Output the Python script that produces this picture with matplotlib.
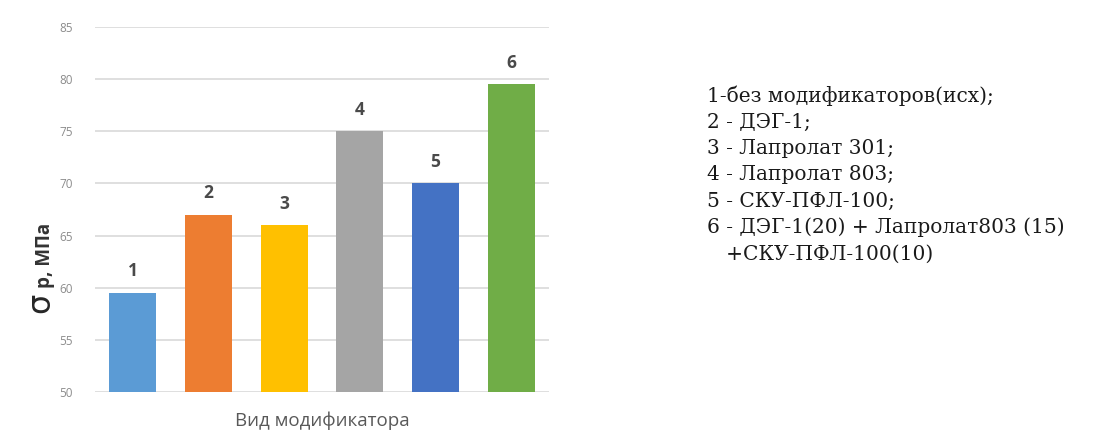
import matplotlib
matplotlib.use("Agg")
import matplotlib.pyplot as plt

# Data
categories = ["1", "2", "3", "4", "5", "6"]
strength = [59.5, 67.0, 66.0, 75.0, 70.0, 79.5]
bar_colors = ["#5B9BD5", "#ED7D31", "#FFC000", "#A5A5A5", "#4472C4", "#70AD47"]
y_ticks = [50, 55, 60, 65, 70, 75, 80, 85]
legend_lines = [
    "1-без модификаторов(исх);",
    "2 - ДЭГ-1;",
    "3 - Лапролат 301;",
    "4 - Лапролат 803;",
    "5 - СКУ-ПФЛ-100;",
    "6 - ДЭГ-1(20) + Лапролат803 (15)",
    "   +СКУ-ПФЛ-100(10)",
]

W, H = 1099, 436
fig = plt.figure(figsize=(W / 100, H / 100), dpi=100)
fig.patch.set_facecolor("white")

ax = fig.add_axes([95 / W, (H - 392) / H, 454 / W, (392 - 27) / H])
x = list(range(len(categories)))
ax.bar(x, strength, width=0.62, color=bar_colors, zorder=3)
ax.set_xlim(-0.5, len(categories) - 0.5)
ax.set_ylim(50, 85)
ax.set_yticks(y_ticks)
ax.set_yticklabels([str(t) for t in y_ticks], fontsize=8.5, color="#8C8C8C",
                   family="Open Sans")
ax.set_xticks([])
ax.tick_params(axis="y", length=0, pad=16)
ax.grid(axis="y", color="#D9D9D9", linewidth=1.2, zorder=0)
for s in ax.spines.values():
    s.set_visible(False)

for xi, v, lab in zip(x, strength, categories):
    ax.annotate(lab, (xi, v), xytext=(0, 9), textcoords="offset points",
                ha="center", va="bottom", fontsize=12.5, color="#4A4A4A",
                fontweight="bold", family="Open Sans")

ax.set_xlabel("Вид модификатора", fontsize=13.5, color="#595959",
              family="Open Sans", labelpad=14)

# Axis title: sigma with subscript
fig.text(41 / W, 1 - 313 / H, "σ", rotation=90, fontsize=23, color="#262626",
         ha="center", va="bottom", family="DejaVu Sans")
fig.text(45 / W, 1 - 288 / H, "р, МПа", rotation=90, fontsize=13.5,
         color="#333333", ha="center", va="bottom", family="Open Sans",
         fontweight="bold")

# Explanatory list
y0 = 96
for i, line in enumerate(legend_lines):
    fig.text(707 / W, 1 - (y0 + i * 26.3) / H, line, fontsize=14.5,
             family="DejaVu Serif", color="#1A1A1A", ha="left", va="center")

fig.savefig("out.png", dpi=100, facecolor="white")
